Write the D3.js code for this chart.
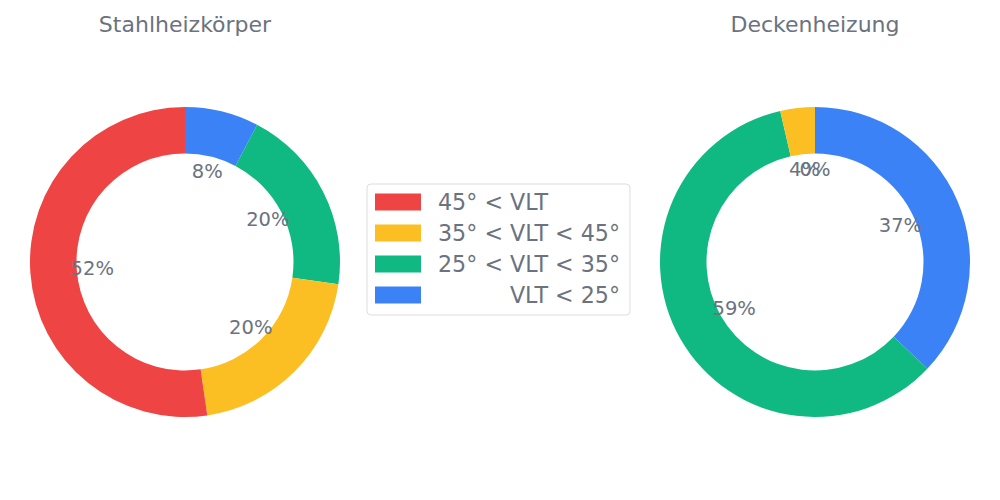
<!DOCTYPE html>
<html>
<head>
<meta charset="utf-8">
<script src="https://cdn.jsdelivr.net/npm/d3@7"></script>
<style>
  body { margin: 0; background: #fff; }
  text { font-family: "DejaVu Sans", sans-serif; fill: #6B7280; }
</style>
</head>
<body>
<div id="chart"></div>
<script>
// categories in drawing order (clockwise from top)
var categories = ["VLT < 25°", "25° < VLT < 35°", "35° < VLT < 45°", "45° < VLT"];
var colors = ["#3B82F6", "#10B981", "#FBBF24", "#EF4444"];
var titles = ["Stahlheizkörper", "Deckenheizung"];
// shares in percent
var stahlValues = [7.7, 19.6, 20.4, 52.3];
var deckeValues = [37.1, 59.3, 3.6, 0];
// legend order (top to bottom)
var legendOrder = ["45° < VLT", "35° < VLT < 45°", "25° < VLT < 35°", "VLT < 25°"];

var width = 1000, height = 500;
var svg = d3.select("#chart").append("svg")
    .attr("width", width)
    .attr("height", height);

var outerR = 155, innerR = 108.5, labelR = 93;
var centers = [[185, 262], [815, 262]];

var color = d3.scaleOrdinal(categories, colors);

var pie = d3.pie()
    .sort(null)
    .value(function (d) { return d.v; })
    .startAngle(0)
    .endAngle(2 * Math.PI);

var arc = d3.arc().innerRadius(innerR).outerRadius(outerR);

[stahlValues, deckeValues].forEach(function (vals, i) {
    var data = categories.map(function (c, j) { return { c: c, v: vals[j] }; });
    var g = svg.append("g")
        .attr("transform", "translate(" + centers[i][0] + "," + centers[i][1] + ")");

    var arcs = pie(data);
    g.selectAll("path")
        .data(arcs)
        .enter()
        .append("path")
        .attr("d", arc)
        .attr("fill", function (d) { return color(d.data.c); });

    // percent labels
    g.selectAll("text.pct")
        .data(arcs)
        .enter()
        .append("text")
        .attr("class", "pct")
        .attr("x", function (d) { return labelR * Math.sin((d.startAngle + d.endAngle) / 2); })
        .attr("y", function (d) { return -labelR * Math.cos((d.startAngle + d.endAngle) / 2); })
        .attr("text-anchor", "middle")
        .attr("dominant-baseline", "central")
        .style("font-size", "19.5px")
        .text(function (d) { return d3.format(".0f")(d.data.v) + "%"; });

    svg.append("text")
        .attr("x", centers[i][0])
        .attr("y", 32)
        .attr("text-anchor", "middle")
        .style("font-size", "22px")
        .text(titles[i]);
});

// legend
var legend = svg.append("g").attr("transform", "translate(367,184)");
legend.append("rect")
    .attr("width", 263)
    .attr("height", 131)
    .attr("rx", 4)
    .attr("fill", "#fff")
    .attr("stroke", "#dddddd");

var rows = legend.selectAll("g.row")
    .data(legendOrder)
    .enter()
    .append("g")
    .attr("class", "row")
    .attr("transform", function (d, i) { return "translate(0," + (18 + i * 31) + ")"; });

rows.append("rect")
    .attr("x", 8)
    .attr("y", -8.5)
    .attr("width", 46)
    .attr("height", 17)
    .attr("fill", function (d) { return color(d); });

rows.append("text")
    .attr("x", function (d) { return d === "VLT < 25°" ? 253 : 71; })
    .attr("text-anchor", function (d) { return d === "VLT < 25°" ? "end" : "start"; })
    .attr("dominant-baseline", "central")
    .style("font-size", "22.2px")
    .text(function (d) { return d; });
</script>
</body>
</html>
